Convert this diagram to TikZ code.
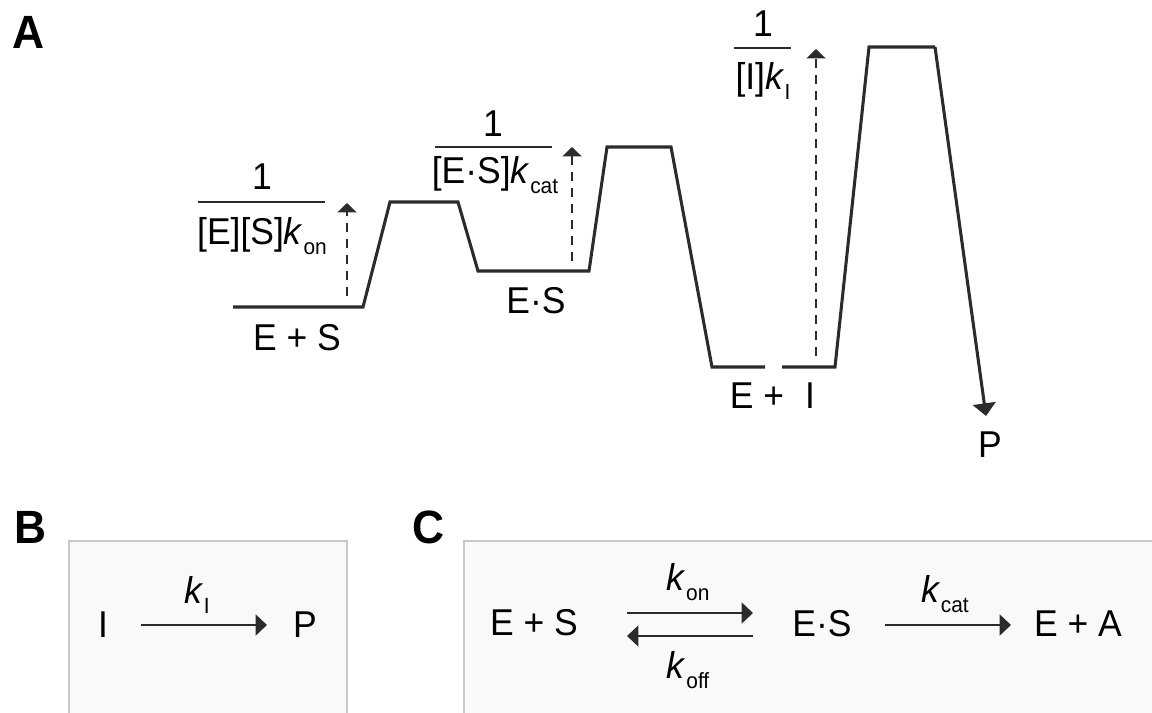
\documentclass[tikz,border=0pt]{standalone}
\usepackage{fontspec}
\setmainfont{Liberation Sans}[FakeStretch=0.95]
\usetikzlibrary{arrows.meta}
\definecolor{ink}{HTML}{2B2B2B}
\definecolor{boxfill}{HTML}{F9F9F9}
\definecolor{boxline}{HTML}{C8C8C8}
% rate constant: italic k with a lowered upright subscript
\newcommand{\rate}[1]{\textit{k}\kern0.3pt\raisebox{-7.5pt}{\fontsize{16.5}{16.5}\selectfont #1}}
\begin{document}
\begin{tikzpicture}[x=0.75pt,y=-0.75pt,
  lbl/.style={inner sep=0pt,anchor=base,font=\fontsize{28}{30}\selectfont},
  panel/.style={inner sep=0pt,anchor=base west,font=\bfseries\fontsize{35}{36}\selectfont},
  profile/.style={draw=ink,line width=2.3pt,line join=miter},
  barrier/.style={draw=ink,line width=2.1pt,dash pattern=on 7pt off 5pt,
    -{Triangle[length=7pt,width=14pt]}},
  fbar/.style={draw=ink,line width=2.1pt},
  rxn/.style={draw=ink,line width=2.2pt,-{Triangle[length=8.5pt,width=15.5pt]}},
  frame/.style={draw=boxline,line width=1.8pt},
  framefill/.style={fill=boxfill}]
\useasboundingbox (0,0) rectangle (1152,713);
\clip (0,0) rectangle (1152,713);

% ---------- panel A: reaction coordinate profile ----------
\node[panel] (pa) at (12,49) {A};

\coordinate (s0) at (233,307);
\coordinate (s1) at (363,307);
\coordinate (s2) at (390,202);
\coordinate (s3) at (458,202);
\coordinate (s4) at (478,271);
\coordinate (s5) at (589,271);
\coordinate (s6) at (607,147);
\coordinate (s7) at (671,147);
\coordinate (s8) at (712,367);
\coordinate (s9) at (765,367);
\coordinate (t0) at (782,367);
\coordinate (t1) at (835,367);
\coordinate (t2) at (869,47);
\coordinate (t3) at (935,47);
\coordinate (tp) at (986,416);

\draw[profile] (s0) -- (s1) -- (s2) -- (s3) -- (s4) -- (s5) -- (s6) -- (s7) -- (s8) -- (s9);
\draw[profile] (t0) -- (t1) -- (t2) -- (t3);
\draw[draw=ink,line width=2.3pt,-{Triangle[length=9.5pt,width=17pt]}] (t3) -- (tp);

\node[lbl] (es) at (297,350) {E + S};
\node[lbl] (cplx) at (536,313) {E·S};
\node[lbl] (ei) at (757,408) {E +};
\node[lbl] (inh) at (810,408) {I};
\node[lbl] (prod) at (990,457) {P};

% barrier heights drawn as dashed arrows
\coordinate (b1a) at (347,296);  \coordinate (b1b) at (347,203);
\coordinate (b2a) at (572,261);  \coordinate (b2b) at (572,147);
\coordinate (b3a) at (816,356);  \coordinate (b3b) at (816,49);
\draw[barrier] (b1a) -- (b1b);
\draw[barrier] (b2a) -- (b2b);
\draw[barrier] (b3a) -- (b3b);

% time constants written as fractions
\node[lbl] (n1) at (262,190) {1};
\coordinate (f1a) at (198,202); \coordinate (f1b) at (325,202);
\draw[fbar] (f1a) -- (f1b);
\node[lbl] (d1) at (262,244) {[E][S]\rate{on}};

\node[lbl] (n2) at (493,137) {1};
\coordinate (f2a) at (435,147); \coordinate (f2b) at (552,147);
\draw[fbar] (f2a) -- (f2b);
\node[lbl] (d2) at (495,183) {[E·S]\rate{cat}};

\node[lbl] (n3) at (763,37) {1};
\coordinate (f3a) at (734,48); \coordinate (f3b) at (791,48);
\draw[fbar] (f3a) -- (f3b);
\node[lbl] (d3) at (763,90) {[I]\rate{I}};

% ---------- panel B ----------
\node[panel] (pb) at (14,543) {B};
\fill[framefill] (69,541) rectangle (347,730);
\draw[frame] (69,730) -- (69,541) -- (347,541) -- (347,730);
\node[lbl] (bi) at (103,637) {I};
\node[lbl] (bp) at (305,637) {P};
\coordinate (ba) at (141,625); \coordinate (bb) at (267,625);
\draw[rxn] (ba) -- (bb);
\node[lbl] (bk) at (197,603) {\rate{I}};

% ---------- panel C ----------
\node[panel] (pc) at (412,543) {C};
\fill[framefill] (464,541) rectangle (1170,730);
\draw[frame] (464,730) -- (464,541) -- (1170,541);
\node[lbl] (ces) at (534,635) {E + S};
\node[lbl] (ccx) at (822,636) {E·S};
\node[lbl] (cea) at (1078,636) {E + A};
\coordinate (c1a) at (627,613); \coordinate (c1b) at (753,613);
\coordinate (c2a) at (753,636); \coordinate (c2b) at (627,636);
\coordinate (c3a) at (885,625); \coordinate (c3b) at (1011,625);
\draw[rxn] (c1a) -- (c1b);
\draw[rxn] (c2a) -- (c2b);
\draw[rxn] (c3a) -- (c3b);
\node[lbl] (kon) at (688,590) {\rate{on}};
\node[lbl] (koff) at (688,678) {\rate{off}};
\node[lbl] (kcat) at (945,602) {\rate{cat}};
\end{tikzpicture}
\end{document}
